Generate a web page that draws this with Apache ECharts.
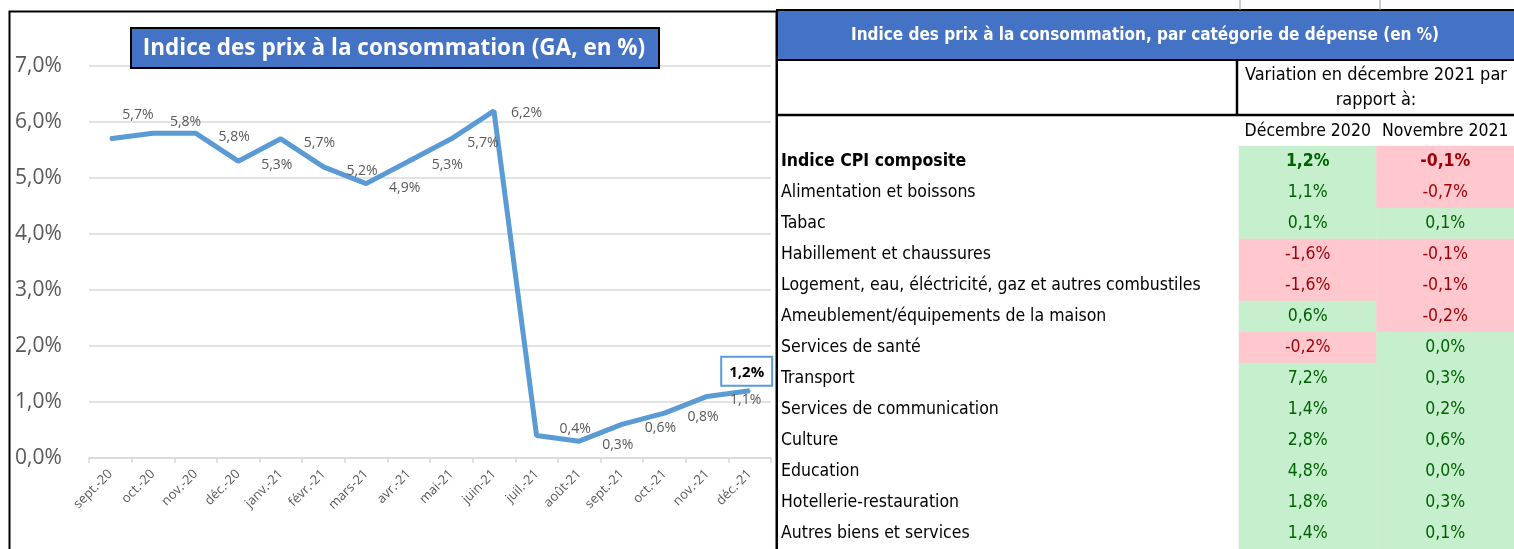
<!DOCTYPE html>
<html>
<head>
<meta charset="utf-8">
<script src="https://cdn.jsdelivr.net/npm/echarts@6/dist/echarts.min.js"></script>
<style>
  html, body { margin: 0; padding: 0; background: #fff; }
  #chart { width: 1514px; height: 549px; }
</style>
</head>
<body>
<div id="chart"></div>
<script>
// line chart data
const months = ['sept.-20', 'oct.-20', 'nov.-20', 'déc.-20', 'janv.-21', 'févr.-21', 'mars-21', 'avr.-21',
    'mai-21', 'juin-21', 'juil.-21', 'août-21', 'sept.-21', 'oct.-21', 'nov.-21', 'déc.-21']
const inflation = [5.7, 5.8, 5.8, 5.3, 5.7, 5.2, 4.9, 5.3, 5.7, 6.2, 0.4, 0.3, 0.6, 0.8, 1.1, 1.2]

// table data
const categories = ['Indice CPI composite', 'Alimentation et boissons', 'Tabac', 'Habillement et chaussures',
    'Logement, eau, éléctricité, gaz et autres combustiles', 'Ameublement/équipements de la maison',
    'Services de santé', 'Transport', 'Services de communication', 'Culture', 'Education',
    'Hotellerie-restauration', 'Autres biens et services']
const columns = ['Décembre 2020', 'Novembre 2021']
const decembre2020 = [1.2, 1.1, 0.1, -1.6, -1.6, 0.6, -0.2, 7.2, 1.4, 2.8, 4.8, 1.8, 1.4]
const novembre2021 = [-0.1, -0.7, 0.1, -0.1, -0.1, -0.2, 0.0, 0.3, 0.2, 0.6, 0.0, 0.3, 0.1]

const fmt = v => v.toFixed(1).replace('.', ',') + '%'
const narrow = '"Liberation Sans Narrow", "DejaVu Sans Condensed", sans-serif'

// label nudges for the line (Excel placed them by hand)
const labelNudge = {0: [-11, -28], 1: [-6, -15], 8: [-7, 0], 9: [-6, -2], 10: [0, -11]}

let lineData = inflation.map((v, i) => {
    let item = {value: v}
    if (i === inflation.length - 1) {
        item.label = {
            position: 'top', distance: 5, offset: [-3, 0],
            fontWeight: 'bold', fontSize: 15, color: '#000', backgroundColor: '#fff',
            borderColor: '#5B9BD5', borderWidth: 2, padding: [7, 7, 5, 7]
        }
    } else if (labelNudge[i]) {
        item.label = {offset: [labelNudge[i][0], labelNudge[i][1] + 4]}
    }
    return item
})

let heatData = []
categories.forEach((c, r) => {
    [decembre2020, novembre2021].forEach((arr, col) => {
        let v = arr[r]
        heatData.push({
            value: [col, r, v],
            label: {
                color: v < 0 ? '#9C0006' : '#006100',
                fontWeight: r === 0 ? 'bold' : 'normal'
            }
        })
    })
})

let option = {
    animation: false,
    backgroundColor: '#fff',
    grid: [
        {left: 89, right: 743, top: 66, bottom: 91},
        {left: 1239, width: 275, top: 146, height: 409.5}
    ],
    xAxis: [
        {
            type: 'category',
            data: months,
            boundaryGap: true,
            axisLine: {lineStyle: {color: '#d9d9d9', width: 1.5}},
            axisTick: {show: true, length: 5, lineStyle: {color: '#d9d9d9', width: 1.5}},
            axisLabel: {rotate: 45, fontSize: 13, color: '#595959', margin: 14, fontFamily: 'Open Sans', interval: 0}
        },
        {
            gridIndex: 1,
            type: 'category',
            data: columns,
            position: 'top',
            axisLine: {show: false},
            axisTick: {show: false},
            axisLabel: {fontSize: 17.5, color: '#000', margin: 6, fontFamily: narrow, interval: 0}
        }
    ],
    yAxis: [
        {
            type: 'value',
            min: 0, max: 7, interval: 1,
            axisLine: {show: false},
            axisTick: {show: false},
            splitLine: {lineStyle: {color: '#d9d9d9', width: 1.5}},
            axisLabel: {
                formatter: v => fmt(v), fontSize: 21, color: '#595959',
                align: 'left', margin: 74, fontFamily: 'Open Sans'
            }
        },
        {
            gridIndex: 1,
            type: 'category',
            data: categories,
            inverse: true,
            axisLine: {show: false},
            axisTick: {show: false},
            splitLine: {show: false},
            axisLabel: {
                align: 'left', margin: 458, fontSize: 17.5, color: '#000', fontFamily: narrow, interval: 0,
                formatter: (v, i) => i === 0 ? '{b|' + v + '}' : v,
                rich: {b: {fontWeight: 'bold', fontSize: 17.5, fontFamily: narrow, color: '#000'}}
            }
        }
    ],
    visualMap: {
        type: 'piecewise',
        show: false,
        seriesIndex: 1,
        dimension: 2,
        pieces: [{lt: 0, color: '#FFC7CE'}, {gte: 0, color: '#C6EFCE'}]
    },
    series: [
        {
            type: 'line',
            data: lineData,
            symbol: 'circle',
            symbolSize: 2,
            itemStyle: {color: '#5B9BD5'},
            lineStyle: {color: '#5B9BD5', width: 5},
            label: {
                show: true, position: 'right', distance: 22, offset: [0, 4],
                formatter: p => fmt(p.value), fontSize: 14, color: '#595959', fontFamily: 'Open Sans'
            }
        },
        {
            type: 'heatmap',
            xAxisIndex: 1,
            yAxisIndex: 1,
            data: heatData,
            label: {
                show: true, fontSize: 17.5, fontFamily: narrow,
                formatter: p => fmt(p.value[2])
            },
            emphasis: {disabled: true}
        }
    ],
    graphic: [
        // chart frame
        {type: 'rect', shape: {x: 9.5, y: 11.5, width: 767, height: 560}, style: {fill: 'none', stroke: '#000', lineWidth: 2}, z: 100},
        // chart title box
        {type: 'rect', shape: {x: 131, y: 28, width: 528, height: 40}, style: {fill: '#4472C4', stroke: '#000', lineWidth: 2}, z: 100},
        {type: 'text', x: 394, y: 49, style: {text: 'Indice des prix à la consommation (GA, en %)', fill: '#fff', font: 'bold 22.5px "Open Sans"', align: 'center', verticalAlign: 'middle'}, z: 101},
        // table header
        {type: 'rect', shape: {x: 777, y: 10, width: 740, height: 50}, style: {fill: '#4472C4', stroke: '#000', lineWidth: 2}, z: 100},
        {type: 'text', x: 1145, y: 36, style: {text: 'Indice des prix à la consommation, par catégorie de dépense (en %)', fill: '#fff', font: 'bold 17px ' + narrow, align: 'center', verticalAlign: 'middle'}, z: 101},
        {type: 'line', shape: {x1: 777, y1: 115, x2: 1514, y2: 115}, style: {stroke: '#000', lineWidth: 2.5}, z: 100},
        {type: 'line', shape: {x1: 1237, y1: 60, x2: 1237, y2: 115}, style: {stroke: '#000', lineWidth: 2.5}, z: 100},
        {type: 'line', shape: {x1: 777, y1: 10, x2: 777, y2: 549}, style: {stroke: '#000', lineWidth: 2}, z: 100},
        {type: 'line', shape: {x1: 1240, y1: 0, x2: 1240, y2: 10}, style: {stroke: '#999', lineWidth: 1}, z: 100},
        {type: 'line', shape: {x1: 1380, y1: 0, x2: 1380, y2: 10}, style: {stroke: '#999', lineWidth: 1}, z: 100},
        {type: 'text', x: 1376, y: 75, style: {text: 'Variation en décembre 2021 par', fill: '#000', font: '18px ' + narrow, align: 'center', verticalAlign: 'middle'}, z: 101},
        {type: 'text', x: 1376, y: 100, style: {text: 'rapport à:', fill: '#000', font: '18px ' + narrow, align: 'center', verticalAlign: 'middle'}, z: 101}
    ]
}

let myChart = echarts.init(document.getElementById('chart'))
myChart.setOption(option)
</script>
</body>
</html>
